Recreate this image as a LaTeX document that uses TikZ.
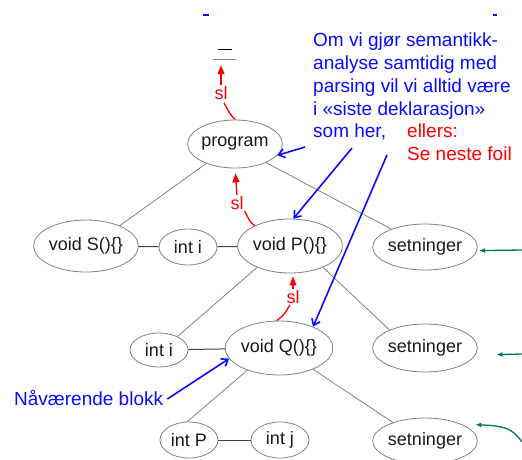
\documentclass[tikz,border=0pt]{standalone}
\usepackage{fontspec}
\setmainfont{Liberation Sans}
\usetikzlibrary{shapes.geometric,arrows.meta}
\definecolor{tealc}{RGB}{0,115,110}
\definecolor{myblue}{RGB}{10,10,255}
\definecolor{ink}{RGB}{25,25,25}
\begin{document}
\begin{tikzpicture}[x=1pt,y=-1pt,
  el/.style={ellipse,draw=gray,line width=0.8pt,inner sep=0pt,text=ink,font=\fontsize{18}{20}\selectfont},
  tree/.style={draw=gray,line width=0.8pt},
  hz/.style={draw=black!75,line width=1pt},
  bluearr/.style={draw=myblue,line width=1.6pt,-{Straight Barb[length=6pt,width=9pt]}},
  slline/.style={draw=red,line width=1.3pt},
  slarr/.style={draw=red,line width=1.3pt,-{Triangle[length=9pt,width=7pt]}},
  sllabel/.style={text=red,font=\fontsize{18}{20}\selectfont,inner sep=1pt},
  tealarr/.style={draw=tealc,line width=1.3pt,-{Latex[length=6pt,width=5pt]}},
  bigtext/.style={font=\fontsize{19}{22.75}\selectfont,align=left,inner sep=0pt,anchor=north west},
]
\useasboundingbox (0,0) rectangle (522,459);

% tiny blue marks at top
\draw[myblue,line width=1.5pt] (203,15) -- (209,15);
\draw[myblue,line width=1.5pt] (493,15) -- (497,15);

% nil symbol
\node[inner sep=0pt,minimum width=23pt,minimum height=9pt] (nil) at (224.5,54.5) {};
\draw[black,line width=1pt] ([xshift=5pt]nil.north west) -- ([xshift=-4pt]nil.north east);
\draw[gray,line width=1pt] (nil.south west) -- (nil.south east);

% nodes
\node[el,minimum width=94pt,minimum height=48pt] (program) at (235,144) {program};
\node[el,minimum width=88pt,minimum height=52pt] (voidS) at (86,246) {void S()\{\}};
\node[el,minimum width=58pt,minimum height=36pt] (inti1) at (188,247) {int i};
\node[el,minimum width=88pt,minimum height=54pt] (voidP) at (290,246) {void P()\{\}};
\node[el,minimum width=92pt,minimum height=46pt] (set1) at (425,247) {setninger};
\node[el,minimum width=58pt,minimum height=34pt] (inti2) at (159,350) {int i};
\node[el,minimum width=88pt,minimum height=54pt] (voidQ) at (279,348) {void Q()\{\}};
\node[el,minimum width=92pt,minimum height=48pt] (set2) at (425,348) {setninger};
\node[el,minimum width=58pt,minimum height=36pt] (intP) at (189,440) {int P};
\node[el,minimum width=58pt,minimum height=36pt] (intj) at (280,440) {int j};
\node[el,minimum width=92pt,minimum height=46pt] (set3) at (425,441) {setninger};

% tree lines
\draw[tree] (program.-146) -- (voidS.31);
\draw[tree] (program.-31) -- (set1.152);
\draw[tree] (voidP.-147) -- (inti2.36);
\draw[tree] (voidP.-33) -- (set2.153);
\draw[tree] (voidQ.-145) -- (intP.95);
\draw[tree] (voidQ.-32) -- (set3.150);

% horizontal lines
\draw[hz] (voidS) -- (inti1);
\draw[hz] (inti1) -- (voidP);
\draw[hz] (inti2) -- (voidQ);
\draw[hz] (intP) -- (intj);

% static links
\node[sllabel] (sl1) at (221,93) {sl};
\draw[slline] (program.north) .. controls (230,114) .. ([xshift=3pt,yshift=-2pt]sl1.south);
\draw[slarr,shorten >=6pt] (sl1.north) -- (sl1.north |- nil.south);

\node[sllabel] (sl2) at (237,203) {sl};
\draw[slline] (voidP.150) .. controls (250,222) .. (sl2.south east);
\draw[slarr,shorten >=5pt] (sl2.north) -- (program.south);

\node[sllabel] (sl3) at (293,297) {sl};
\draw[slline] (voidQ.95) .. controls (284,315) .. ([xshift=-3pt]sl3.south);
\draw[slarr,shorten >=3pt] (sl3.north) -- (sl3.north |- voidP.south);

% blue text
\node[bigtext,text=myblue] (note) at (313,33) {Om vi gjør semantikk-\\analyse samtidig med\\parsing vil vi alltid være\\i «siste deklarasjon»\\som her,};
\node[bigtext,text=red] (else) at (407,124) {ellers:\\Se neste foil};
\node[bigtext,text=myblue,anchor=base west] (cur) at (14,405) {Nåværende blokk};

\coordinate (c1) at (305,147);
\coordinate (c2) at (352,148);
\coordinate (c3) at (387,155);
\draw[bluearr] (c1) -- (program.-15);
\draw[bluearr] (c2) -- (voidP.83);
\draw[bluearr] (c3) -- (voidQ.32);
\draw[bluearr] ([xshift=4pt,yshift=6pt]cur.base east) -- (voidQ.192);

% teal arrows from the right
\coordinate (t1) at (522,250);
\coordinate (t2) at (522,354);
\coordinate (t3) at (522,442);
\draw[tealarr,shorten >=2pt] (t1) -- (set1.-4);
\draw[tealarr,shorten >=21pt] (t2) -- (set2.-8);
\draw[tealarr,shorten >=14pt] (t3) .. controls (512,428) and (505,426) .. (set3.25);
\end{tikzpicture}
\end{document}
